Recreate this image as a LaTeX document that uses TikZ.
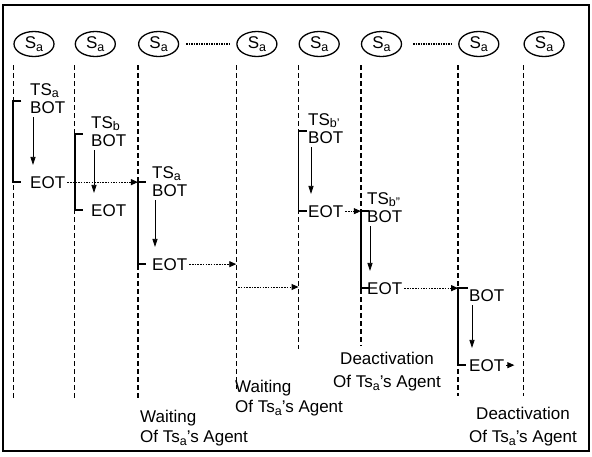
\documentclass[tikz,border=0pt]{standalone}
\usepackage{fontspec}
\setmainfont{Liberation Sans}
\usetikzlibrary{arrows.meta, positioning, shapes.geometric}
\newcommand{\sbs}[1]{\raisebox{-0.3ex}{\fontsize{12.5}{13}\selectfont #1}}

\begin{document}
\begin{tikzpicture}[
  x=1pt, y=-1pt,
  node distance=20pt,
  every node/.style={font=\fontsize{17}{20}\selectfont, inner sep=0pt},
  state/.style={ellipse, draw, line width=1.3pt, minimum width=40pt, minimum height=25pt},
  life/.style={line width=1.5pt, dash pattern=on 5pt off 3pt},
  bar/.style={line width=1.8pt},
  flow/.style={-{Triangle[length=8pt, width=5pt]}, line width=0.8pt, shorten <=4pt, shorten >=11pt},
  msg/.style={-{Triangle[length=7pt, width=6pt]}, line width=0.9pt, dash pattern=on 1.5pt off 1.2pt, shorten <=2pt},
  gap/.style={line width=2pt, dash pattern=on 1.5pt off 1pt, shorten <=7pt, shorten >=6pt},
  txt/.style={anchor=base west},
  note/.style={align=left, anchor=north west}
]
  \useasboundingbox (0,0) rectangle (592,456);
  \draw[line width=1.2pt] (3,5) rectangle (589,451);

  % Sites
  \node[state] (st1) at (34,44) {S\sbs{a}};
  \node[state, right=20pt of st1] (st2) {S\sbs{a}};
  \node[state, right=22pt of st2] (st3) {S\sbs{a}};
  \node[state, right=57pt of st3] (st4) {S\sbs{a}};
  \node[state, right=21pt of st4] (st5) {S\sbs{a}};
  \node[state, right=21pt of st5] (st6) {S\sbs{a}};
  \node[state, right=56pt of st6] (st7) {S\sbs{a}};
  \node[state, right=24pt of st7] (st8) {S\sbs{a}};
  \draw[gap] (st3) -- (st4);
  \draw[gap, shorten <=11pt, shorten >=5pt] (st6) -- (st7);

  % Lifelines
  \draw[life] (st1.west |- 0,65) -- (st1.west |- 0,398);
  \draw[life] (st2.west |- 0,65) -- (st2.west |- 0,398);
  \draw[life] (st3.west |- 0,65) -- (st3.west |- 0,398);
  \draw[life] (st4.west |- 0,65) -- (st4.west |- 0,389);
  \draw[life] (st5.west |- 0,65) -- (st5.west |- 0,349);
  \draw[life] (st6.west |- 0,65) -- (st6.west |- 0,346);
  \draw[life] (st7.west |- 0,65) -- (st7.west |- 0,396);
  \draw[life] (st8.west |- 0,65) -- (st8.west |- 0,396);

  % Transaction a
  \node[txt] (bot1) at (30,113) {BOT};
  \node[txt] (ts1) at ([yshift=18pt]bot1.base west) {TS\sbs{a}};
  \node[txt] (eot1) at (30,188) {EOT};
  \draw[bar] (st1.west |- bot1.north) ++(8,0) -- ++(-8,0) -- (st1.west |- eot1.west) -- ++(8,0);
  \draw[flow] ([xshift=3pt]bot1.south west) -- ([xshift=3pt]eot1.north west);

  % Transaction b
  \node[txt] (bot2) at (91,146) {BOT};
  \node[txt] (ts2) at ([yshift=18pt]bot2.base west) {TS\sbs{b}};
  \node[txt] (eot2) at (91,216) {EOT};
  \draw[bar] (st2.west |- bot2.north) ++(8,0) -- ++(-8,0) -- (st2.west |- eot2.west) -- ++(8,0);
  \draw[flow] ([xshift=3pt]bot2.south west) -- ([xshift=3pt]eot2.north west);

  % Transaction a, next site
  \node[txt] (bot3) at (152,196) {BOT};
  \node[txt] (ts3) at ([yshift=18pt]bot3.base west) {TS\sbs{a}};
  \node[txt] (eot3) at (152,270) {EOT};
  \draw[bar] (st3.west |- eot1.west) ++(8,0) -- ++(-8,0) -- (st3.west |- eot3.west) -- ++(8,0);
  \draw[flow] ([xshift=3pt]bot3.south west) -- ([xshift=3pt]eot3.north west);

  % Transaction b'
  \node[txt] (bot5) at (308,143) {BOT};
  \node[txt] (ts5) at ([yshift=18pt]bot5.base west) {TS\sbs{b'}};
  \node[txt] (eot5) at (308,217) {EOT};
  \draw[bar] (st5.west |- bot5.north) ++(8,0) -- ++(-8,0) -- (st5.west |- eot5.west) -- ++(8,0);
  \draw[flow] ([xshift=3pt]bot5.south west) -- ([xshift=3pt]eot5.north west);

  % Transaction b''
  \node[txt] (bot6) at (367,222) {BOT};
  \node[txt] (ts6) at ([yshift=18pt]bot6.base west) {TS\sbs{b''}};
  \node[txt] (eot6) at (367,294) {EOT};
  \draw[bar] (st6.west |- eot5.west) ++(8,0) -- ++(-8,0) -- (st6.west |- eot6.west) -- ++(8,0);
  \draw[flow] ([xshift=3pt]bot6.south west) -- ([xshift=3pt]eot6.north west);

  % Last transaction
  \node[txt] (bot7) at (469,301) {BOT};
  \node[txt] (eot7) at (469,371) {EOT};
  \draw[bar] (st7.west |- eot6.west) ++(10,0) -- ++(-10,0) -- (st7.west |- eot7.west) -- ++(8,0);
  \draw[flow] ([xshift=3pt]bot7.south west) -- ([xshift=3pt]eot7.north west);

  % Messages
  \coordinate (w4) at (st4.west |- 0,287);
  \coordinate (w5) at (st5.west |- 0,287);
  \coordinate (stop) at ([xshift=10pt]eot7.east);
  \draw[msg] (eot1.east) -- (st3.west |- eot1.east);
  \draw[msg] (eot3.east) -- (st4.west |- eot3.east);
  \draw[msg] (w4) -- (w5);
  \draw[msg] (eot5.east) -- (st6.west |- eot5.east);
  \draw[msg] (eot6.east) -- (st7.west |- eot6.east);
  \draw[msg] (eot7.east) -- (stop);

  % Notes below
  \node[note] (wait1) at (140,410) {Waiting\\Of Ts\sbs{a}'s Agent};
  \node[note] (wait2) at (235,380) {Waiting\\Of Ts\sbs{a}'s Agent};
  \node[note, align=center, anchor=north] (off1) at (387,352) {Deactivation\\[3pt]Of Ts\sbs{a}'s Agent};
  \node[note, align=center, anchor=north] (off2) at (523,407) {Deactivation\\[3pt]Of Ts\sbs{a}'s Agent};
\end{tikzpicture}
\end{document}
